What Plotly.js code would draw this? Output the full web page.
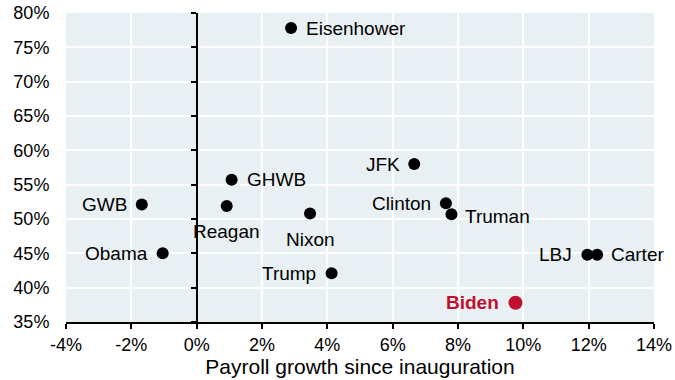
<!DOCTYPE html>
<html>
<head>
<meta charset="utf-8">
<script src="https://cdn.plot.ly/plotly-3.0.1.min.js"></script>
<style>html,body{margin:0;padding:0;background:#fff;}#chart{width:675px;height:380px;}</style>
</head>
<body>
<div id="chart"></div>
<script>
// Data: payroll growth since inauguration (%) vs approval rating (%)
const presidents = ["Eisenhower","GHWB","Reagan","Nixon","Trump","JFK","Clinton","Truman","LBJ","Carter","GWB","Obama"];
const payrollGrowth = [2.89, 1.07, 0.92, 3.47, 4.13, 6.66, 7.63, 7.80, 11.96, 12.26, -1.68, -1.04];
const approval = [77.8, 55.7, 51.9, 50.8, 42.1, 58.0, 52.3, 50.7, 44.8, 44.8, 52.1, 45.0];

const highlightName = ["Biden"];
const highlightGrowth = [9.76];
const highlightApproval = [37.8];

const xTicks = [-4, -2, 0, 2, 4, 6, 8, 10, 12, 14];
const xTickLabels = ["-4%","-2%","0%","2%","4%","6%","8%","10%","12%","14%"];
const yTicks = [35, 40, 45, 50, 55, 60, 65, 70, 75, 80];
const yTickLabels = ["35%","40%","45%","50%","55%","60%","65%","70%","75%","80%"];

// label placement (style): [xanchor, xshift, yshift]
const labelStyle = {
  Eisenhower: ["left", 13, 0], GHWB: ["left", 13, 0], Reagan: ["center", 0, -26],
  Nixon: ["center", 0, -26], Trump: ["right", -14, 0], JFK: ["right", -12, 0],
  Clinton: ["right", -13, 0], Truman: ["left", 12, -2], LBJ: ["right", -13, 0],
  Carter: ["left", 12, 0], GWB: ["right", -13, 0], Obama: ["right", -13, 0],
  Biden: ["right", -14, 0]
};

const font = "Liberation Sans, Arial, sans-serif";
const red = "#C0102F";

const traces = [
  {
    x: payrollGrowth, y: approval, mode: "markers", type: "scatter",
    marker: {color: "#000000", size: 12}, hoverinfo: "none", cliponaxis: false
  },
  {
    x: highlightGrowth, y: highlightApproval, mode: "markers", type: "scatter",
    marker: {color: red, size: 14}, hoverinfo: "none", cliponaxis: false
  },
  {
    x: [0], y: [35], yaxis: "y2", mode: "markers", marker: {opacity: 0}, hoverinfo: "none", type: "scatter"
  }
];

function makeLabel(name, x, y, color, bold) {
  const s = labelStyle[name];
  return {
    x: x, y: y, xref: "x", yref: "y", showarrow: false,
    text: bold ? "<b>" + name + "</b>" : name,
    xanchor: s[0], yanchor: "middle", xshift: s[1], yshift: s[2],
    font: {family: font, size: 19, color: color}
  };
}

const annotations = presidents.map((p, i) => makeLabel(p, payrollGrowth[i], approval[i], "#000000", false))
  .concat(highlightName.map((p, i) => makeLabel(p, highlightGrowth[i], highlightApproval[i], red, true)));

const layout = {
  width: 675, height: 380,
  margin: {l: 66, r: 21, t: 13, b: 58},
  paper_bgcolor: "#ffffff",
  plot_bgcolor: "#E9F0F3",
  showlegend: false,
  font: {family: font, size: 18, color: "#000000"},
  annotations: annotations,
  xaxis: {
    range: [-4, 14], tickvals: xTicks, ticktext: xTickLabels,
    showgrid: true, gridcolor: "#ffffff", gridwidth: 2,
    zeroline: false, showline: true, linecolor: "#000000", linewidth: 2,
    ticks: "outside", ticklen: 5, tickwidth: 2, tickcolor: "#000000",
    tickfont: {family: font, size: 18, color: "#000000"},
    title: {text: "Payroll growth since inauguration", font: {family: font, size: 21, color: "#000000"}, standoff: 2}
  },
  yaxis: {
    range: [35, 80], tickvals: yTicks, ticktext: yTickLabels,
    showgrid: true, gridcolor: "#ffffff", gridwidth: 2,
    zeroline: false, showline: false,
    ticks: "outside", ticklen: 12, tickcolor: "rgba(0,0,0,0)",
    tickfont: {family: font, size: 18, color: "#000000"}
  },
  yaxis2: {
    range: [35, 80], tickvals: yTicks, overlaying: "y",
    anchor: "free", position: 4 / 18, side: "left",
    showgrid: false, zeroline: false, showticklabels: false,
    showline: true, linecolor: "#000000", linewidth: 2,
    ticks: "outside", ticklen: 5, tickwidth: 2, tickcolor: "#000000"
  }
};

Plotly.newPlot("chart", traces, layout, {displayModeBar: false, staticPlot: true});
</script>
</body>
</html>
